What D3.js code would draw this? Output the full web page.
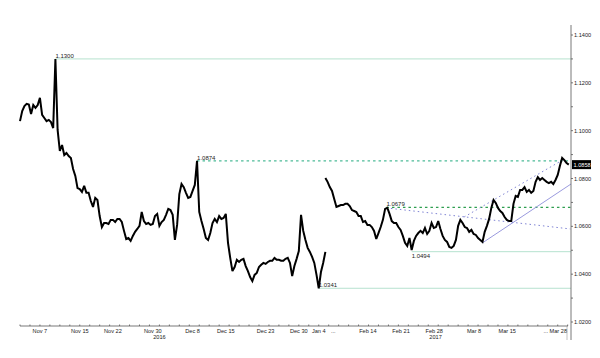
<!DOCTYPE html>
<html><head><meta charset="utf-8">
<script src="https://cdn.jsdelivr.net/npm/d3@7"></script>
<style>body{margin:0;background:#fff;} svg{display:block;font-family:"Liberation Sans",Arial,sans-serif;}</style>
</head><body><svg id="c" width="600" height="358"></svg>
<script>
// EUR/USD, 8-hour closes (3 per trading day). Day index 0 = Nov 2 2016.
const pointsPerDay = 3;
const seg1StartDay = 0;
const seg1 = [1.1040,1.1082,1.1103,1.1112,1.1109,1.1070,1.1107,1.1095,1.1107,1.1137,
1.1066,1.1053,1.1040,1.1045,1.1036,1.1011,1.1300,1.1003,1.0915,1.0940,
1.0898,1.0907,1.0894,1.0886,1.0840,1.0811,1.0760,1.0756,1.0744,1.0769,
1.0740,1.0740,1.0706,1.0681,1.0719,1.0710,1.0643,1.0597,1.0614,1.0614,
1.0610,1.0627,1.0627,1.0618,1.0631,1.0631,1.0618,1.0581,1.0547,1.0551,
1.0539,1.0560,1.0577,1.0589,1.0602,1.0660,1.0622,1.0610,1.0614,1.0606,
1.0610,1.0643,1.0652,1.0602,1.0618,1.0627,1.0648,1.0673,1.0668,1.0648,
1.0543,1.0606,1.0735,1.0777,1.0764,1.0740,1.0719,1.0723,1.0748,1.0773,
1.0874,1.0660,1.0622,1.0589,1.0551,1.0543,1.0572,1.0614,1.0631,1.0618,
1.0643,1.0631,1.0635,1.0652,1.0531,1.0468,1.0413,1.0430,1.0460,1.0451,
1.0460,1.0464,1.0434,1.0413,1.0388,1.0371,1.0397,1.0405,1.0430,1.0439,
1.0447,1.0443,1.0451,1.0456,1.0456,1.0468,1.0460,1.0460,1.0456,1.0456,
1.0464,1.0468,1.0447,1.0392,1.0434,1.0464,1.0497,1.0648,1.0581,1.0543,
1.0510,1.0493,1.0472,1.0447,1.0397,1.0341,1.0409,1.0447,1.0493];
const seg2StartDay = 46; // Feb 6 2017 (axis break after Jan 5)
const seg2 = [1.0802,1.0786,1.0764,1.0748,1.0714,1.0681,1.0685,1.0689,1.0689,1.0694,
1.0694,1.0685,1.0668,1.0664,1.0660,1.0643,1.0643,1.0618,1.0622,1.0606,
1.0606,1.0597,1.0581,1.0547,1.0572,1.0597,1.0627,1.0673,1.0677,1.0652,
1.0622,1.0614,1.0614,1.0597,1.0585,1.0560,1.0531,1.0518,1.0551,1.0501,
1.0539,1.0560,1.0572,1.0581,1.0572,1.0593,1.0568,1.0581,1.0614,1.0593,
1.0597,1.0622,1.0589,1.0560,1.0543,1.0535,1.0514,1.0510,1.0518,1.0543,
1.0602,1.0627,1.0614,1.0597,1.0593,1.0577,1.0585,1.0568,1.0564,1.0551,
1.0543,1.0535,1.0577,1.0602,1.0631,1.0677,1.0710,1.0698,1.0677,1.0664,
1.0656,1.0639,1.0627,1.0622,1.0622,1.0694,1.0727,1.0723,1.0752,1.0752,
1.0764,1.0744,1.0752,1.0740,1.0748,1.0786,1.0806,1.0794,1.0802,1.0794,
1.0786,1.0781,1.0786,1.0777,1.0794,1.0815,1.0853,1.0886,1.0877,1.0865,
1.0858];
const lastPrice = 1.0858;

const yTickValues = [1.02,1.03,1.04,1.05,1.06,1.07,1.08,1.09,1.10,1.11,1.12,1.13,1.14];
const yLabelValues = [1.02,1.04,1.06,1.08,1.10,1.12,1.14];

const xTickDays   = [3, 9, 14, 20, 26, 31, 37, 42, 45, 47.2, 52.4, 57.4, 62.4, 68.4, 73.4, 79.2, 82.4];
const xTickLabels = ["Nov 7","Nov 15","Nov 22","Nov 30","Dec 8","Dec 15","Dec 23","Dec 30","Jan 4","...","Feb 14","Feb 21","Feb 28","Mar 8","Mar 15","...","Mar 28"];
const yearDays   = [21, 62.6];
const yearLabels = ["2016","2017"];

// horizontal levels
const levelValues = [1.1300, 1.0874, 1.0679, 1.0494, 1.0341];
const levelStartDays = [5.33, 26.67, 55.2, 59.0, 45.0];
const levelStyles = ["solid","dash1","dash2","solid","solid"];
const levelLabelBelow = [false,false,false,true,false];

// trend lines [day, price] pairs
const supportLine = [[69.67, 1.0531], [83.0, 1.0777]];
const upperChannel = [[66.9, 1.0639], [81.9, 1.0880]];
const downLine = [[55.2, 1.0677], [82.9, 1.0589]];

const svg = d3.select("#c");
const x = d3.scaleLinear().domain([0, 83]).range([20, 571]);
const y = d3.scaleLinear().domain([1.02, 1.14]).range([322, 35]);

const levelColor = {solid:"#b6e2cf", dash1:"#4dbb98", dash2:"#2e9e4f"};
levelValues.forEach((v,i)=>{
  const st = levelStyles[i];
  svg.append("line").attr("x1", x(levelStartDays[i])).attr("x2", x(83))
    .attr("y1", y(v)).attr("y2", y(v))
    .attr("stroke", levelColor[st]).attr("stroke-width", st==="solid"?1:1.2)
    .attr("stroke-dasharray", st==="solid"?null:"2.5,3");
  svg.append("text").attr("x", x(levelStartDays[i])).attr("y", levelLabelBelow[i]? y(v)+6.5 : y(v)-1)
    .attr("font-size", 6).attr("fill","#222").text(v.toFixed(4));
});

const tl = (pts, dash, col) => svg.append("line")
  .attr("x1", x(pts[0][0])).attr("y1", y(pts[0][1])).attr("x2", x(pts[1][0])).attr("y2", y(pts[1][1]))
  .attr("stroke", col).attr("stroke-width", 1).attr("stroke-dasharray", dash);
tl(supportLine, null, "#9a9ade");
tl(upperChannel, "1.5,3", "#7f84d4");
tl(downLine, "1.5,3", "#7f84d4");

const line = d3.line().x(d=>x(d.d)).y(d=>y(d.v));
[[seg1, seg1StartDay],[seg2, seg2StartDay]].forEach(([arr, s])=>{
  const pts = arr.map((v,i)=>({d: s + i/pointsPerDay, v}));
  svg.append("path").datum(pts).attr("d", line).attr("fill","none")
    .attr("stroke","#000").attr("stroke-width",2).attr("stroke-linejoin","miter").attr("stroke-miterlimit",3);
});

// x axis
const xa = svg.append("g").attr("transform","translate(0,326)");
xa.append("line").attr("x1", 20).attr("x2", 568).attr("stroke","#555").attr("stroke-width",0.8);
xa.selectAll("line.mt").data(d3.range(0, 83, 1.5)).enter().append("line")
  .attr("x1", d=>x(d)).attr("x2", d=>x(d)).attr("y1",0).attr("y2",-1.5).attr("stroke","#555").attr("stroke-width",0.8);
xa.selectAll("text.tl").data(xTickDays).enter().append("text")
  .attr("x", d=>x(d)).attr("y", 7).attr("font-size", 5.6).attr("fill","#222")
  .attr("text-anchor", (d,i)=> i===xTickDays.length-1 ? "end" : "middle")
  .text((d,i)=>xTickLabels[i]);
xa.selectAll("text.yr").data(yearDays).enter().append("text")
  .attr("x", d=>x(d)).attr("y", 13).attr("font-size", 5.6).attr("fill","#222")
  .attr("text-anchor","middle").text((d,i)=>yearLabels[i]);
xa.append("line").attr("x1",567).attr("x2",567).attr("y1",0).attr("y2",14).attr("stroke","#999").attr("stroke-width",0.6);

// y axis (right)
const ya = svg.append("g").attr("transform","translate(571,0)");
ya.append("line").attr("x1",0).attr("x2",0).attr("y1",25).attr("y2",340).attr("stroke","#555").attr("stroke-width",0.8);
ya.selectAll("line.t").data(yTickValues).enter().append("line")
  .attr("x1",0).attr("x2",2).attr("y1",d=>y(d)).attr("y2",d=>y(d)).attr("stroke","#555").attr("stroke-width",0.8);
ya.selectAll("text.t").data(yLabelValues).enter().append("text")
  .attr("x",3).attr("y",d=>y(d)+2).attr("font-size",5.6).attr("fill","#222").text(d=>d.toFixed(4));

// last price tag
const ly = y(lastPrice);
ya.append("rect").attr("x",1).attr("y",ly-4.5).attr("width",19).attr("height",9).attr("fill","#000");
ya.append("text").attr("x",2.5).attr("y",ly+2).attr("font-size",5.6).attr("fill","#fff").text(lastPrice.toFixed(4));
</script></body></html>
